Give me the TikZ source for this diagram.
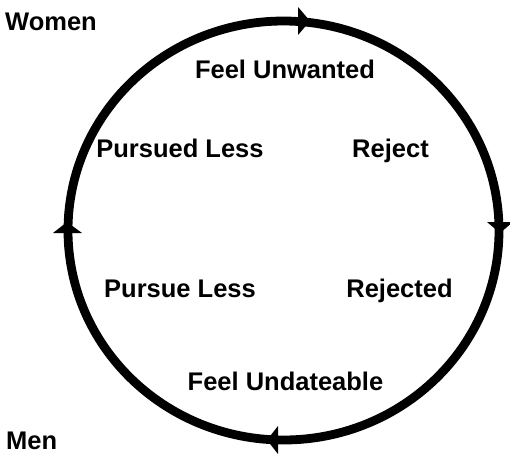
\documentclass[tikz,border=0pt]{standalone}
\usepackage{fontspec}
\setmainfont{Liberation Sans}
\begin{document}
\begin{tikzpicture}[x=1pt,y=-1pt,
  lbl/.style={font=\fontsize{25.5}{30}\selectfont\bfseries, inner sep=0pt, anchor=base},
  side/.style={lbl, anchor=base west},
  ring/.style={line width=8.8pt, draw=black},
  head/.style={fill=black, draw=none}]
\useasboundingbox (0,0) rectangle (510,456);
\fill[white] (0,0) rectangle (510,456);
% cycle ring
\draw[ring] (283.5,230.5) ellipse [x radius=215.5, y radius=209.5];
% arrowheads (clockwise)
\coordinate (ctop) at (310,21);
\coordinate (cright) at (500,233);
\coordinate (cbot) at (267,440);
\coordinate (cleft) at (67,222);
\fill[head] (ctop) -- ++(-12,-14) -- ++(0,28) -- cycle;
\fill[head] (cright) -- ++(-13,-11) -- ++(26,0) -- cycle;
\fill[head] (cbot) -- ++(11,-14) -- ++(0,28) -- cycle;
\fill[head] (cleft) -- ++(-14,11) -- ++(29,0) -- cycle;
% labels
\node[side] (women) at (5,30) {Women};
\node[side] (men) at (6,449) {Men};
\node[lbl] (unwanted) at (285,78) {Feel Unwanted};
\node[lbl] (pursued) at (180,157) {Pursued Less};
\node[lbl] (reject) at (390.5,157) {Reject};
\node[lbl] (pursue) at (180,297) {Pursue Less};
\node[lbl] (rejected) at (399.5,297) {Rejected};
\node[lbl] (undateable) at (285.5,390) {Feel Undateable};
\end{tikzpicture}
\end{document}
